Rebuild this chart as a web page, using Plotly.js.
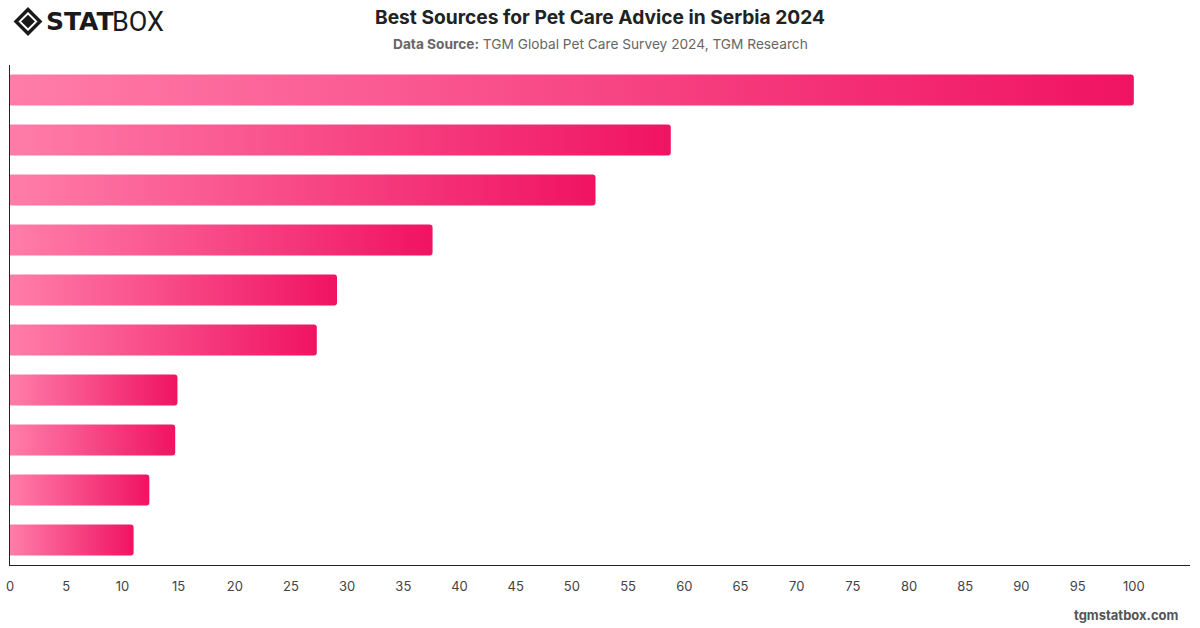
<!DOCTYPE html>
<html>
<head>
<meta charset="utf-8">
<script src="https://cdn.plot.ly/plotly-3.0.1.min.js"></script>
<style>
  html, body { margin: 0; padding: 0; background: #fff; }
  #chart { width: 1200px; height: 628px; }
</style>
</head>
<body>
<div id="chart"></div>
<script>
// Survey share (%) for each advice source, ranked from most to least cited
const ranks = [1, 2, 3, 4, 5, 6, 7, 8, 9, 10];
const shares = [100, 58.8, 52.1, 37.6, 29.1, 27.3, 14.9, 14.7, 12.4, 11.0];
const xTicks = [0, 5, 10, 15, 20, 25, 30, 35, 40, 45, 50, 55, 60, 65, 70, 75, 80, 85, 90, 95, 100];

const W = 1200, H = 628;
const M = { l: 10, r: 10, t: 65, b: 63 };
// pixel -> paper helpers for header/footer decorations
const px = x => (x - M.l) / (W - M.l - M.r);
const py = y => (H - M.b - y) / (H - M.t - M.b);

function diamond(cx, cy, r) {
  return `M ${px(cx)} ${py(cy - r)} L ${px(cx + r)} ${py(cy)} L ${px(cx)} ${py(cy + r)} L ${px(cx - r)} ${py(cy)} Z`;
}

const trace = {
  type: 'bar',
  orientation: 'h',
  y: ranks,
  x: shares,
  width: 0.62,
  marker: { color: '#f7407f', line: { width: 0 }, cornerradius: 3 },
  hoverinfo: 'x'
};

const layout = {
  width: W, height: H,
  margin: M,
  paper_bgcolor: '#ffffff',
  plot_bgcolor: '#ffffff',
  showlegend: false,
  font: { family: 'Inter, "Open Sans", sans-serif', color: '#333' },
  title: {
    text: '<b>Best Sources for Pet Care Advice in Serbia 2024</b>',
    font: { family: 'Inter, sans-serif', size: 19.2, color: '#222' },
    x: 0.5, xref: 'paper', xanchor: 'center',
    y: 1 - 17 / H, yref: 'container', yanchor: 'middle'
  },
  xaxis: {
    range: [0, 105],
    tickvals: xTicks,
    ticktext: xTicks.map(String),
    showgrid: false,
    zeroline: false,
    showline: true, linecolor: '#222', linewidth: 1,
    ticks: 'outside', ticklen: 9, tickcolor: 'rgba(0,0,0,0)',
    tickfont: { family: 'Inter, sans-serif', size: 13, color: '#444' },
    fixedrange: true
  },
  yaxis: {
    type: 'category',
    autorange: 'reversed',
    showticklabels: false,
    showgrid: false,
    zeroline: false,
    showline: true, linecolor: '#222', linewidth: 1,
    ticks: '',
    fixedrange: true
  },
  shapes: [
    { type: 'path', xref: 'paper', yref: 'paper', path: diamond(28, 21.5, 12),
      line: { color: '#1a1a1a', width: 3.4 }, fillcolor: 'rgba(0,0,0,0)' },
    { type: 'path', xref: 'paper', yref: 'paper', path: diamond(28, 21.5, 5.8),
      line: { color: '#1a1a1a', width: 1.5 }, fillcolor: '#1a1a1a' }
  ],
  annotations: [
    {
      text: '<b>Data Source:</b> TGM Global Pet Care Survey 2024, TGM Research',
      xref: 'paper', yref: 'paper', x: px(600), y: py(44),
      xanchor: 'center', yanchor: 'middle', showarrow: false,
      font: { family: 'Inter, sans-serif', size: 13.7, color: '#666' }
    },
    {
      text: '<b>STAT</b>',
      xref: 'paper', yref: 'paper', x: px(44), y: py(22),
      xanchor: 'left', yanchor: 'middle', showarrow: false,
      font: { family: '"DejaVu Sans", sans-serif', size: 25, color: '#1a1a1a' }
    },
    {
      text: 'BOX',
      xref: 'paper', yref: 'paper', x: px(110), y: py(22),
      xanchor: 'left', yanchor: 'middle', showarrow: false,
      font: { family: 'Roboto, sans-serif', size: 27, color: '#1a1a1a' }
    },
    {
      text: '<b>tgmstatbox.com</b>',
      xref: 'paper', yref: 'paper', x: px(1181), y: py(615),
      xanchor: 'right', yanchor: 'middle', showarrow: false,
      font: { family: 'Inter, sans-serif', size: 13, color: '#555' }
    }
  ]
};

const gd = document.getElementById('chart');
Plotly.newPlot(gd, [trace], layout, { displayModeBar: false, staticPlot: true }).then(() => {
  // Horizontal pink gradient applied to every bar, spanning each bar's own length
  const svg = gd.querySelector('svg.main-svg');
  const ns = 'http://www.w3.org/2000/svg';
  let defs = svg.querySelector('defs');
  if (!defs) { defs = document.createElementNS(ns, 'defs'); svg.insertBefore(defs, svg.firstChild); }
  const grad = document.createElementNS(ns, 'linearGradient');
  grad.setAttribute('id', 'barGradient');
  grad.setAttribute('x1', '0'); grad.setAttribute('y1', '0');
  grad.setAttribute('x2', '1'); grad.setAttribute('y2', '0');
  [['0%', '#ff7da9'], ['100%', '#f01362']].forEach(([off, col]) => {
    const s = document.createElementNS(ns, 'stop');
    s.setAttribute('offset', off);
    s.setAttribute('stop-color', col);
    grad.appendChild(s);
  });
  defs.appendChild(grad);
  gd.querySelectorAll('.barlayer .point path').forEach(p => {
    p.style.fill = 'url(#barGradient)';
  });
});
</script>
</body>
</html>
